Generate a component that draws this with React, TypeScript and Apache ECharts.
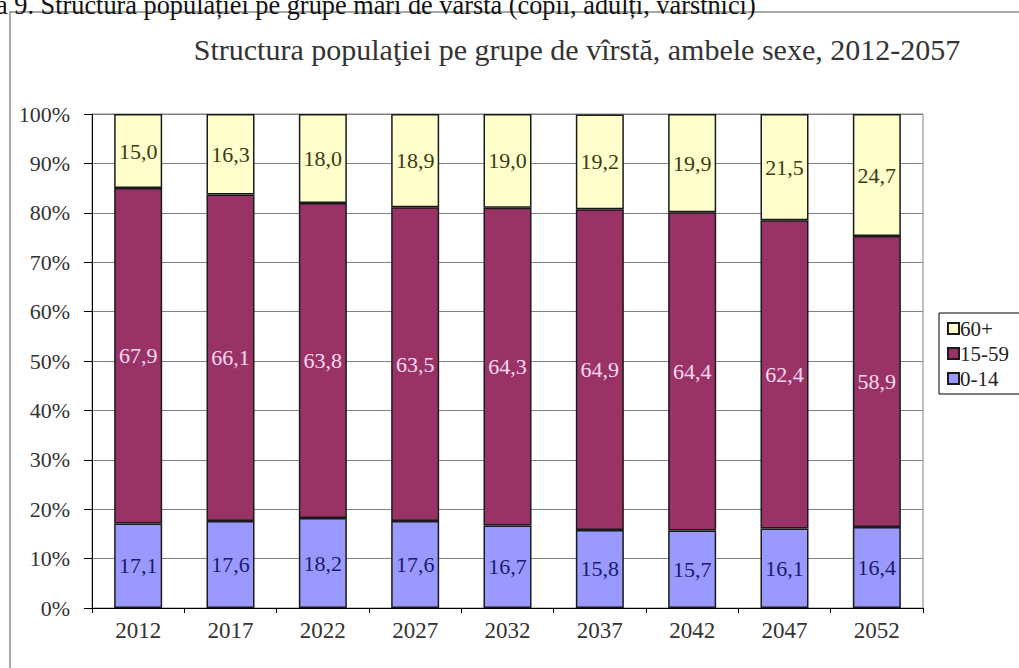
import React, { useEffect, useRef } from "react";
import * as echarts from "echarts";

const years = ["2012", "2017", "2022", "2027", "2032", "2037", "2042", "2047", "2052"];
const children = [17.1, 17.6, 18.2, 17.6, 16.7, 15.8, 15.7, 16.1, 16.4];
const adults = [67.9, 66.1, 63.8, 63.5, 64.3, 64.9, 64.4, 62.4, 58.9];
const elderly = [15.0, 16.3, 18.0, 18.9, 19.0, 19.2, 19.9, 21.5, 24.7];
const yTicks = [0, 10, 20, 30, 40, 50, 60, 70, 80, 90, 100];

const SERIF = "Liberation Serif";

const fmt = (p: any) => Number(p.value).toFixed(1).replace(".", ",");

export default function App() {
  const ref = useRef<HTMLDivElement>(null);
  useEffect(() => {
    if (!ref.current) return;
    const chart = echarts.init(ref.current, null, { renderer: "svg" });
    const mkSeries = (name: string, data: number[], color: string, labelColor: string) => ({
      name,
      type: "bar",
      stack: "total",
      data,
      barWidth: 48,
      itemStyle: { color, borderColor: "#1a1a1a", borderWidth: 1.5 },
      label: {
        show: true,
        position: "inside",
        formatter: fmt,
        color: labelColor,
        fontFamily: SERIF,
        fontSize: 22,
      },
    });
    chart.setOption({
      animation: false,
      backgroundColor: "#ffffff",
      textStyle: { fontFamily: SERIF },
      graphic: [
        {
          type: "rect",
          shape: { x: 10, y: 12, width: 1100, height: 700 },
          style: { fill: "none", stroke: "#8a8a8a", lineWidth: 1.5 },
          z: -1,
        },
        {
          type: "text",
          x: -4,
          y: 19,
          scaleX: 0.94,
          style: {
            text: "a 9. Structura populației pe grupe mari de vârstă (copii, adulți, vârstnici)",
            fontFamily: SERIF,
            fontSize: 28,
            fill: "#111",
            textVerticalAlign: "bottom",
          },
        },
        {
          type: "text",
          x: 577,
          y: 49,
          style: {
            text: "Structura populaţiei pe grupe de vîrstă, ambele sexe, 2012-2057",
            fontFamily: SERIF,
            fontSize: 30,
            fill: "#333",
            textAlign: "center",
            textVerticalAlign: "middle",
          },
        },
      ],
      legend: {
        orient: "vertical",
        left: 939,
        top: 313,
        data: ["60+", "15-59", "0-14"],
        icon: "rect",
        itemWidth: 11,
        itemHeight: 11,
        itemGap: 4,
        padding: [5, 40, 5, 8],
        borderColor: "#000",
        borderWidth: 1,
        textStyle: { fontFamily: SERIF, fontSize: 21, color: "#222", padding: [0, 0, 0, -4] },
      },
      grid: {
        left: 92,
        right: 96,
        top: 114,
        bottom: 60,
        show: true,
        borderColor: "#808080",
        borderWidth: 1,
      },
      xAxis: {
        type: "category",
        data: years,
        axisLine: { lineStyle: { color: "#000", width: 1 } },
        axisTick: { show: true, length: 5, alignWithLabel: false, lineStyle: { color: "#000" } },
        axisLabel: { fontFamily: SERIF, fontSize: 23, color: "#333", margin: 11 },
      },
      yAxis: {
        type: "value",
        min: yTicks[0],
        max: yTicks[yTicks.length - 1],
        interval: 10,
        axisLine: { show: true, lineStyle: { color: "#000", width: 1 } },
        axisTick: { show: true, length: 8, lineStyle: { color: "#000" } },
        axisLabel: {
          fontFamily: SERIF,
          fontSize: 22,
          color: "#333",
          margin: 22,
          formatter: "{value}%",
        },
        splitLine: { lineStyle: { color: "#808080", width: 1 } },
      },
      series: [
        mkSeries("0-14", children, "#9999FF", "#1a1a6e"),
        mkSeries("15-59", adults, "#993366", "#ffd9f2"),
        mkSeries("60+", elderly, "#FFFFCC", "#3a3a10"),
      ],
    });
    return () => chart.dispose();
  }, []);
  return (
    <div
      ref={ref}
      style={{ position: "absolute", left: 0, top: 0, width: 1019, height: 668 }}
    />
  );
}
